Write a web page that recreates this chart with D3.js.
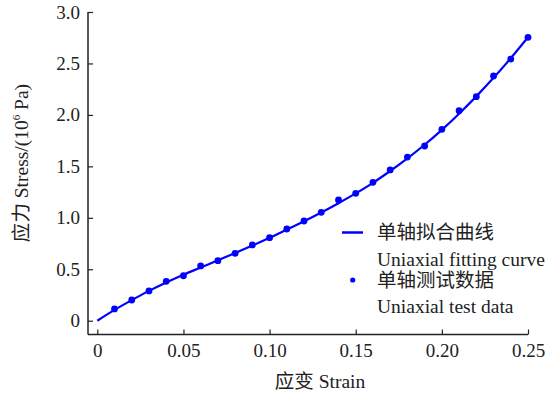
<!DOCTYPE html>
<html>
<head>
<meta charset="utf-8">
<script src="https://cdn.jsdelivr.net/npm/d3@7"></script>
<style>
  body { margin: 0; background: #fff; }
  text { font-family: "Liberation Serif", "Noto Sans CJK SC", serif; fill: #222; }
</style>
</head>
<body>
<div id="graph"></div>
<script>

// data
var strainTest = [0.01,0.02,0.03,0.04,0.05,0.06,0.07,0.08,0.09,0.10,0.11,0.12,0.13,
                  0.14,0.15,0.16,0.17,0.18,0.19,0.20,0.21,0.22,0.23,0.24,0.25];
var stressTest = [0.114,0.201,0.289,0.383,0.437,0.532,0.583,0.655,0.736,0.807,0.891,0.969,1.053,
                  1.173,1.238,1.345,1.465,1.590,1.698,1.860,2.041,2.177,2.378,2.543,2.754];

var strainFit = [0,0.01,0.02,0.03,0.04,0.05,0.06,0.07,0.08,0.09,0.10,0.11,0.12,0.13,
                 0.14,0.15,0.16,0.17,0.18,0.19,0.20,0.21,0.22,0.23,0.24,0.25];
var stressFit = [0,0.105,0.200,0.290,0.372,0.447,0.517,0.587,0.657,0.730,0.806,0.886,0.967,1.052,
                 1.142,1.237,1.340,1.455,1.578,1.710,1.855,2.012,2.180,2.360,2.552,2.755];

var xTicks = [0,0.05,0.10,0.15,0.20,0.25],
    xTickLabels = ["0","0.05","0.10","0.15","0.20","0.25"];
var yTicks = [0,0.5,1.0,1.5,2.0,2.5,3.0],
    yTickLabels = ["0","0.5","1.0","1.5","2.0","2.5","3.0"];

var width = 555, height = 394;
var axisLeftX = 88, axisBottomY = 334.5;

var xScale = d3.scaleLinear().domain([0, 0.25]).range([97.3, 528]);
var yScale = d3.scaleLinear().domain([0, 3]).range([320.7, 12]);

var svg = d3.select("#graph").append("svg")
    .attr("width", width)
    .attr("height", height);

// x axis
var gx = svg.append("g")
    .attr("transform", "translate(0," + axisBottomY + ")")
    .call(d3.axisBottom(xScale)
        .tickValues(xTicks)
        .tickFormat(function(d, i) { return xTickLabels[i]; })
        .tickSizeInner(-5).tickSizeOuter(0).tickPadding(9));
gx.select(".domain").remove();
gx.selectAll("line").attr("stroke", "#222").attr("stroke-width", 1.2);
gx.selectAll("text").attr("font-size", 19)
    .style("font-family", "Liberation Serif").attr("fill", "#222");
gx.append("line")
    .attr("x1", axisLeftX).attr("x2", xScale(0.25))
    .attr("stroke", "#222").attr("stroke-width", 1.5);

// y axis
var gy = svg.append("g")
    .attr("transform", "translate(" + axisLeftX + ",0)")
    .call(d3.axisLeft(yScale)
        .tickValues(yTicks)
        .tickFormat(function(d, i) { return yTickLabels[i]; })
        .tickSizeInner(-5).tickSizeOuter(0).tickPadding(8));
gy.select(".domain").remove();
gy.selectAll("line").attr("stroke", "#222").attr("stroke-width", 1.2);
gy.selectAll("text").attr("font-size", 19)
    .style("font-family", "Liberation Serif").attr("fill", "#222");
gy.append("line")
    .attr("y1", axisBottomY).attr("y2", yScale(3))
    .attr("stroke", "#222").attr("stroke-width", 1.5);

// axis titles
svg.append("text")
    .attr("x", 320).attr("y", 388)
    .attr("text-anchor", "middle")
    .attr("font-size", 19.5)
    .text("应变 Strain");

var yt = svg.append("text")
    .attr("transform", "translate(28,163) rotate(-90)")
    .attr("text-anchor", "middle")
    .attr("font-size", 19.5);
yt.append("tspan").text("应力 Stress/(10");
yt.append("tspan").attr("font-size", 11).attr("dy", -8).text("6");
yt.append("tspan").attr("dy", 8).text(" Pa)");

// fitting curve
var line = d3.line()
    .x(function(d, i) { return xScale(strainFit[i]); })
    .y(function(d) { return yScale(d); })
    .curve(d3.curveCatmullRom);

svg.append("path")
    .datum(stressFit)
    .attr("fill", "none")
    .attr("stroke", "#0000ff")
    .attr("stroke-width", 2.2)
    .attr("d", line);

// test points
svg.selectAll(".dot")
    .data(stressTest)
    .enter().append("circle")
    .attr("class", "dot")
    .attr("cx", function(d, i) { return xScale(strainTest[i]); })
    .attr("cy", function(d) { return yScale(d); })
    .attr("r", 3.4)
    .attr("fill", "#0000ff");

// legend
var lg = svg.append("g");
lg.append("line")
    .attr("x1", 342).attr("x2", 363).attr("y1", 232.5).attr("y2", 232.5)
    .attr("stroke", "#0000ff").attr("stroke-width", 2.5);
lg.append("circle")
    .attr("cx", 352.7).attr("cy", 280).attr("r", 2.6).attr("fill", "#0000ff");

var legendText = ["单轴拟合曲线", "Uniaxial fitting curve", "单轴测试数据", "Uniaxial test data"];
var legendY = [232, 259, 280, 306.5];
lg.selectAll(".lt")
    .data(legendText)
    .enter().append("text")
    .attr("class", "lt")
    .attr("x", 377)
    .attr("y", function(d, i) { return legendY[i]; })
    .attr("dy", "0.35em")
    .attr("font-size", 19.5)
    .text(function(d) { return d; });

</script>
</body>
</html>
